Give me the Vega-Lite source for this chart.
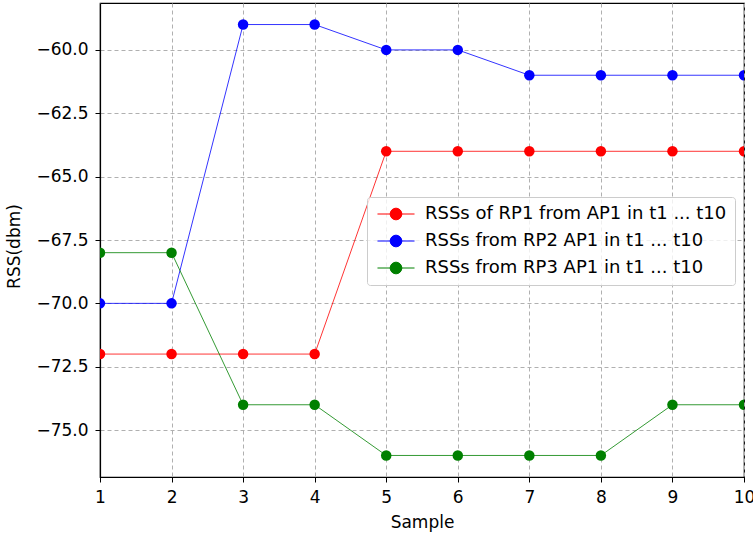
{
  "$schema": "https://vega.github.io/schema/vega-lite/v6.json",
  "width": 644,
  "height": 474,
  "autosize": {"type": "none"},
  "padding": {"left": 100, "top": 3, "right": 9, "bottom": 60},
  "config": {
    "font": "DejaVu Sans",
    "view": {"stroke": "black", "strokeWidth": 1.2},
    "axis": {
      "domain": true, "domainColor": "black", "domainWidth": 1.2,
      "tickColor": "black", "tickSize": 5, "tickWidth": 1,
      "labelFont": "DejaVu Sans", "labelFontSize": 17, "labelColor": "black",
      "titleFont": "DejaVu Sans", "titleFontSize": 17, "titleFontWeight": "normal", "titleColor": "black",
      "grid": true, "gridColor": "#b0b0b0", "gridDash": [4, 3], "gridWidth": 1
    }
  },
  "data": {
    "values": [
      {"sample": 1, "rss": -72, "series": "RSSs of RP1 from AP1 in t1 ... t10"},
      {"sample": 2, "rss": -72, "series": "RSSs of RP1 from AP1 in t1 ... t10"},
      {"sample": 3, "rss": -72, "series": "RSSs of RP1 from AP1 in t1 ... t10"},
      {"sample": 4, "rss": -72, "series": "RSSs of RP1 from AP1 in t1 ... t10"},
      {"sample": 5, "rss": -64, "series": "RSSs of RP1 from AP1 in t1 ... t10"},
      {"sample": 6, "rss": -64, "series": "RSSs of RP1 from AP1 in t1 ... t10"},
      {"sample": 7, "rss": -64, "series": "RSSs of RP1 from AP1 in t1 ... t10"},
      {"sample": 8, "rss": -64, "series": "RSSs of RP1 from AP1 in t1 ... t10"},
      {"sample": 9, "rss": -64, "series": "RSSs of RP1 from AP1 in t1 ... t10"},
      {"sample": 10, "rss": -64, "series": "RSSs of RP1 from AP1 in t1 ... t10"},
      {"sample": 1, "rss": -70, "series": "RSSs from RP2 AP1 in t1 ... t10"},
      {"sample": 2, "rss": -70, "series": "RSSs from RP2 AP1 in t1 ... t10"},
      {"sample": 3, "rss": -59, "series": "RSSs from RP2 AP1 in t1 ... t10"},
      {"sample": 4, "rss": -59, "series": "RSSs from RP2 AP1 in t1 ... t10"},
      {"sample": 5, "rss": -60, "series": "RSSs from RP2 AP1 in t1 ... t10"},
      {"sample": 6, "rss": -60, "series": "RSSs from RP2 AP1 in t1 ... t10"},
      {"sample": 7, "rss": -61, "series": "RSSs from RP2 AP1 in t1 ... t10"},
      {"sample": 8, "rss": -61, "series": "RSSs from RP2 AP1 in t1 ... t10"},
      {"sample": 9, "rss": -61, "series": "RSSs from RP2 AP1 in t1 ... t10"},
      {"sample": 10, "rss": -61, "series": "RSSs from RP2 AP1 in t1 ... t10"},
      {"sample": 1, "rss": -68, "series": "RSSs from RP3 AP1 in t1 ... t10"},
      {"sample": 2, "rss": -68, "series": "RSSs from RP3 AP1 in t1 ... t10"},
      {"sample": 3, "rss": -74, "series": "RSSs from RP3 AP1 in t1 ... t10"},
      {"sample": 4, "rss": -74, "series": "RSSs from RP3 AP1 in t1 ... t10"},
      {"sample": 5, "rss": -76, "series": "RSSs from RP3 AP1 in t1 ... t10"},
      {"sample": 6, "rss": -76, "series": "RSSs from RP3 AP1 in t1 ... t10"},
      {"sample": 7, "rss": -76, "series": "RSSs from RP3 AP1 in t1 ... t10"},
      {"sample": 8, "rss": -76, "series": "RSSs from RP3 AP1 in t1 ... t10"},
      {"sample": 9, "rss": -74, "series": "RSSs from RP3 AP1 in t1 ... t10"},
      {"sample": 10, "rss": -74, "series": "RSSs from RP3 AP1 in t1 ... t10"}
    ]
  },
  "encoding": {
    "x": {
      "field": "sample", "type": "quantitative",
      "scale": {"domain": [1, 10], "nice": false, "zero": false},
      "axis": {"title": "Sample", "values": [1, 2, 3, 4, 5, 6, 7, 8, 9, 10], "format": "d", "labelPadding": 7, "titlePadding": 9, "labelFlush": false}
    },
    "y": {
      "field": "rss", "type": "quantitative",
      "scale": {"domain": [-76.85, -58.15], "nice": false, "zero": false},
      "axis": {"title": "RSS(dbm)", "values": [-75, -72.5, -70, -67.5, -65, -62.5, -60], "format": ".1f", "labelPadding": 7, "titleBaseline": "middle", "titleX": -85.5, "titleY": 243}
    },
    "color": {
      "field": "series", "type": "nominal",
      "sort": ["RSSs of RP1 from AP1 in t1 ... t10", "RSSs from RP2 AP1 in t1 ... t10", "RSSs from RP3 AP1 in t1 ... t10"],
      "scale": {"domain": ["RSSs of RP1 from AP1 in t1 ... t10", "RSSs from RP2 AP1 in t1 ... t10", "RSSs from RP3 AP1 in t1 ... t10"], "range": ["#ff0000", "#0000ff", "#008000"]},
      "legend": {
        "title": null,
        "orient": "none", "legendX": 267, "legendY": 194,
        "padding": 8,
        "fillColor": "rgba(255,255,255,0.8)", "strokeColor": "#cccccc", "cornerRadius": 3,
        "symbolType": "M-2.85,0L2.85,0M0.9,0A0.9,0.9,0,1,1,-0.9,0A0.9,0.9,0,1,1,0.9,0Z",
        "symbolSize": 169, "symbolOffset": 12, "symbolStrokeWidth": 1,
        "labelFontSize": 18, "labelColor": "black", "labelOffset": 20, "labelLimit": 0, "rowPadding": 9,
        "encode": {"symbols": {"update": {"fill": {"scale": "color", "field": "value"}, "stroke": {"scale": "color", "field": "value"}, "strokeWidth": {"value": 1}, "opacity": {"value": 1}}}}
      }
    }
  },
  "layer": [
    {"mark": {"type": "line", "strokeWidth": 0.8, "clip": true}},
    {"mark": {"type": "point", "filled": true, "size": 110, "opacity": 1, "clip": true}}
  ]
}
